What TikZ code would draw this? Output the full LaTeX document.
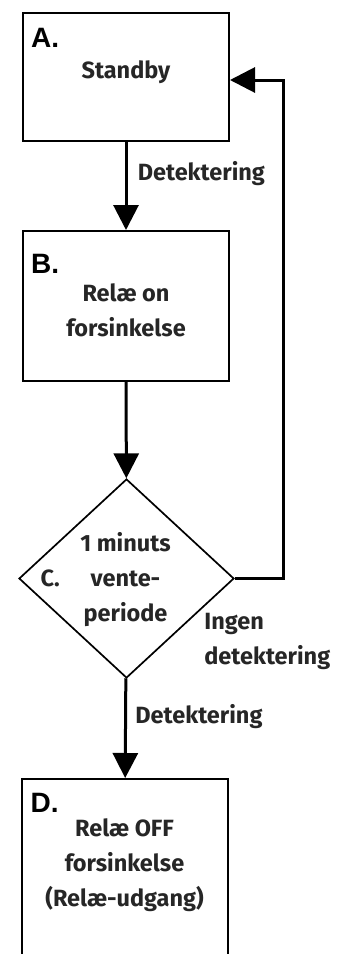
\documentclass[tikz,border=0pt]{standalone}
\usepackage{fontspec}
\setmainfont{Fira Sans}
\newfontfamily\tagfont{Liberation Sans}
\usetikzlibrary{positioning}
\usetikzlibrary{calc}
\usetikzlibrary{shapes.geometric}
\usetikzlibrary{arrows.meta}

\begin{document}
\begin{tikzpicture} [x=1pt, y=1pt,
            stage/.style={draw=black,rectangle,line width=2pt,minimum width=206pt},
            wait/.style={draw=black,diamond,line width=1.7pt,inner sep=0pt,minimum width=215pt,minimum height=199pt},
            flow/.style={-{Triangle[length=25pt,width=25pt]},line width=3pt,black},
            tag/.style={font=\tagfont\bfseries\fontsize{28}{28}\selectfont,inner sep=0pt,anchor=north west},
            txt/.style={font=\bfseries\fontsize{23.5}{35}\selectfont,text=black!85},
         every node/.append style={align=center}]
\useasboundingbox (0,0) rectangle (342,-954);
\clip (0,0) rectangle (342,-954);

\node (A) at (126,-77) [stage,minimum height=128pt] {}
node (B) at (126,-306) [stage,minimum height=150pt] {}
node (C) at (126.5,-578.5) [wait] {}
node (D) at (124.5,-879) [stage,minimum height=200pt] {};

\node (Atag) at ([shift={(9pt,-16pt)}]A.north west) [tag] {A.};
\node (Btag) at ([shift={(9pt,-24pt)}]B.north west) [tag] {B.};
\node (Dtag) at ([shift={(10pt,-15pt)}]D.north west) [tag] {D.};

\node (Atxt) at ([yshift=5pt]A.center) [txt] {Standby};
\node (Btxt) at ([yshift=-4pt]B.center) [txt] {Relæ on\\forsinkelse};
\node (Ctag) at ([xshift=32pt]C.west) [txt] {C.};
\node (Ctxt) at ([xshift=-1pt,yshift=-1pt]C.center) [txt] {1 minuts\\vente-\\periode};
\node (Dtxt) at ([yshift=14pt]D.center) [txt] {Relæ OFF\\forsinkelse\\(Relæ-udgang)};

\coordinate (back) at (283,-80);

\draw[flow] (A) -- node[pos=0.36,right=7pt,txt] (det1) {Detektering} (B);
\draw[flow] (B) -- (C);
\draw[flow] (C) -- node[pos=0.38,right=5pt,txt] (det2) {Detektering} (D);
\draw[flow] (C.east) -- (C.east -| back) -- (back) -- (back -| A.east);
\node (nodet) at ([shift={(-34pt,-31pt)}]C.east) [txt,anchor=north west,align=left] {Ingen\\detektering};
\end{tikzpicture}
\end{document}
